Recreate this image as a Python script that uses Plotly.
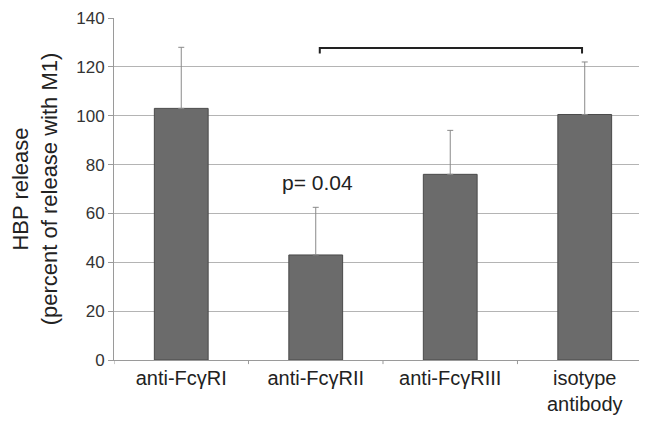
import plotly.graph_objects as go

categories = ["anti-FcγRI", "anti-FcγRII", "anti-FcγRIII", "isotype<br>antibody"]
values = [103, 43, 76, 100.5]
errors_plus = [25, 19.5, 18, 21.5]
tick_vals = [0, 20, 40, 60, 80, 100, 120, 140]
p_text = "p= 0.04"
bracket_x = [1.03, 1.03, 2.98, 2.98]
bracket_y = [125.5, 127.7, 127.7, 125.5]

xs = list(range(len(categories)))

fig = go.Figure()
fig.add_trace(go.Bar(
    x=xs, y=values, width=0.40,
    marker=dict(color="#6b6b6b", line=dict(color="#4a4a4a", width=1)),
    error_y=dict(type="data", symmetric=False, array=errors_plus, arrayminus=[0]*4,
                 color="#8a8a8a", thickness=1, width=3),
    showlegend=False, hoverinfo="skip",
))
fig.add_trace(go.Scatter(
    x=bracket_x, y=bracket_y, mode="lines",
    line=dict(color="#222222", width=2), showlegend=False, hoverinfo="skip",
))
fig.add_annotation(x=1.01, y=72.5, text=p_text, showarrow=False,
                   font=dict(size=21, color="#222222"))

fig.update_layout(
    width=639, height=425,
    margin=dict(l=106, r=0, t=10, b=73),
    plot_bgcolor="white", paper_bgcolor="white",
    font=dict(family="Liberation Sans, Arial, sans-serif", color="#222222"),
    xaxis=dict(
        range=[-0.5, 3.463], tickmode="array", tickvals=xs, ticktext=categories,
        tickfont=dict(size=20), showgrid=False, showline=True,
        linecolor="#9a9a9a", linewidth=1, ticks="", zeroline=False,
        automargin=False,
    ),
    yaxis=dict(
        range=[0, 140], tickvals=tick_vals, tickfont=dict(size=17, color="#333333"),
        showgrid=True, gridcolor="#b4b4b4", gridwidth=1, showline=True,
        linecolor="#9a9a9a", ticks="outside", ticklen=5, tickcolor="#9a9a9a",
        zeroline=False, automargin=False,
        title=dict(text="HBP release<br>(percent of release with M1)",
                   font=dict(size=22), standoff=15),
    ),
)
# category boundary tick marks on the x axis
for b in [-0.5, 0.5, 1.5, 2.5]:
    fig.add_shape(type="line", xref="x", yref="paper", x0=b, x1=b, y0=0, y1=-0.012,
                  line=dict(color="#9a9a9a", width=1))

fig.write_html("out.html")
